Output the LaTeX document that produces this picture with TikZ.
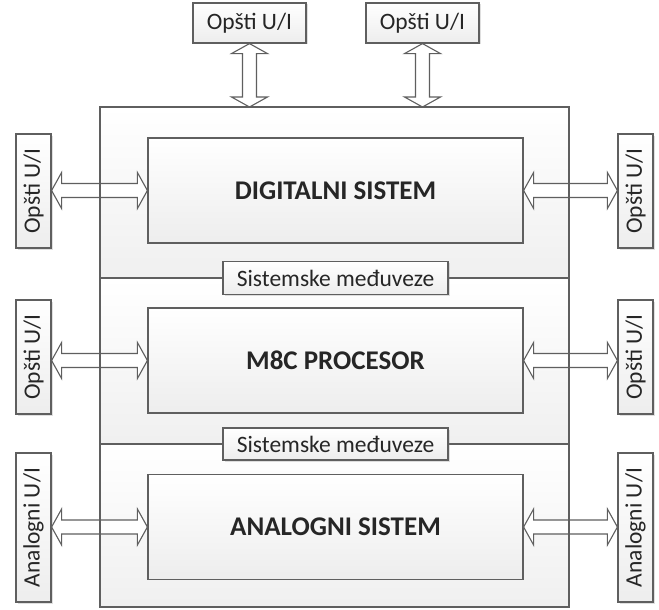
\documentclass[tikz,border=0pt]{standalone}
\usepackage{fontspec}
\setmainfont{Carlito}
\usetikzlibrary{calc,shadows}
\definecolor{ln}{HTML}{5F5F5F}
\definecolor{tx}{HTML}{262626}
\tikzset{
  box/.style={draw=ln, line width=1.2pt, top color=white, bottom color=black!7, inner sep=0pt, text=tx},
  lbl/.style={box, font=\fontsize{23.5}{26}\selectfont, drop shadow={shadow xshift=1.5pt, shadow yshift=-1.5pt, opacity=0.25}},
  core/.style={box, font=\bfseries\fontsize{27}{30}\selectfont, minimum width=375pt, minimum height=105pt},
  sect/.style={draw=none, top color=white, bottom color=black!6},
  arr/.style={draw=ln, line width=1.1pt, fill=white},
  divline/.style={draw=ln, line width=1.2pt}
}
\newcommand\harr[3]{% from x (#1) to x (#2) at y of (#3)
  \path let \p1=(#1), \p2=(#2), \p3=(#3) in
    [arr] (\x1,\y3) -- (\x1+10,\y3+18) -- (\x1+10,\y3+7) -- (\x2-10,\y3+7) -- (\x2-10,\y3+18)
    -- (\x2,\y3) -- (\x2-10,\y3-18) -- (\x2-10,\y3-7) -- (\x1+10,\y3-7) -- (\x1+10,\y3-18) -- cycle;}
\newcommand\varr[2]{% from top (#1) down to (#2), x of #1
  \path let \p1=(#1), \p2=(#2) in
    [arr] (\x1,\y1) -- (\x1+18,\y1-10) -- (\x1+7,\y1-10) -- (\x1+7,\y2+10) -- (\x1+18,\y2+10)
    -- (\x1,\y2) -- (\x1-18,\y2+10) -- (\x1-7,\y2+10) -- (\x1-7,\y1-10) -- (\x1-18,\y1-10) -- cycle;}
\begin{document}
\begin{tikzpicture}[x=1pt,y=-1pt]
\useasboundingbox (0,0) rectangle (659,610);
% frame sections
\path[sect] (100,107) rectangle (569,278);
\path[sect] (100,278) rectangle (569,444);
\path[sect] (100,444) rectangle (569,607);
\coordinate (ftop1) at (248,107);
\coordinate (ftop2) at (423,107);
% core blocks
\node[core] (dig) at (335.5,190.5) {DIGITALNI SISTEM};
\node[core] (cpu) at (335.5,360.5) {M8C PROCESOR};
\node[core] (ana) at (335.5,527) {ANALOGNI SISTEM};
% top labels
\node[lbl, minimum width=113pt, minimum height=40pt] (t1) at (249.5,23) {Opšti U/I};
\node[lbl, minimum width=113pt, minimum height=40pt] (t2) at (422.5,23) {Opšti U/I};
% side labels
\node[lbl, rotate=90, minimum width=114pt, minimum height=35pt] (l1) at (33.5,191) {Opšti U/I};
\node[lbl, rotate=90, minimum width=114pt, minimum height=35pt] (r1) at (635.5,191) {Opšti U/I};
\node[lbl, rotate=90, minimum width=114pt, minimum height=35pt] (l2) at (33.5,357) {Opšti U/I};
\node[lbl, rotate=90, minimum width=114pt, minimum height=35pt] (r2) at (635.5,357) {Opšti U/I};
\node[lbl, rotate=90, minimum width=149pt, minimum height=35pt] (l3) at (33.5,527.5) {Analogni U/I};
\node[lbl, rotate=90, minimum width=149pt, minimum height=35pt] (r3) at (635.5,527.5) {Analogni U/I};
% arrows
\varr{t1.south}{ftop1}
\varr{t2.south}{ftop2}
\harr{l1.south}{dig.west}{dig.west}
\harr{dig.east}{r1.north}{dig.east}
\harr{l2.south}{cpu.west}{cpu.west}
\harr{cpu.east}{r2.north}{cpu.east}
\harr{l3.south}{ana.west}{ana.west}
\harr{ana.east}{r3.north}{ana.east}
% frame outline on top
\draw[divline] (100,107) rectangle (569,607);
\draw[divline] (100,278) coordinate (d1a) -- (569,278) coordinate (d1b);
\draw[divline] (100,444) coordinate (d2a) -- (569,444) coordinate (d2b);
% bus labels
\node[lbl, minimum width=225pt, minimum height=33pt] (b1) at (335.5,278) {Sistemske međuveze};
\node[lbl, minimum width=225pt, minimum height=32pt] (b2) at (335.5,444) {Sistemske međuveze};
\end{tikzpicture}
\end{document}
